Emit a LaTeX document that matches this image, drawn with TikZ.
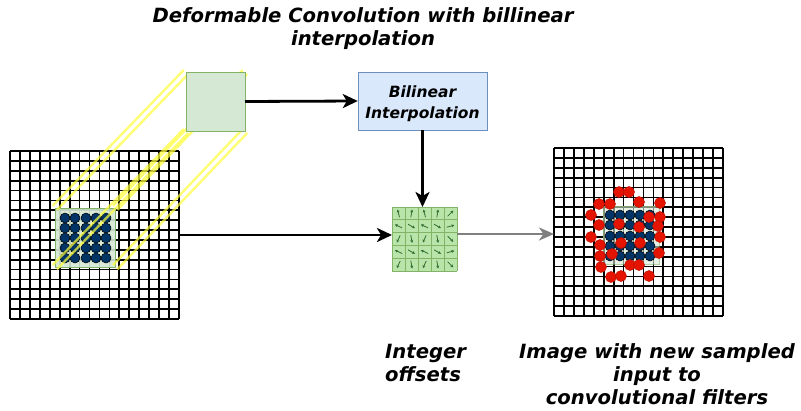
\documentclass[tikz,border=0pt]{standalone}
\usepackage{fontspec}
\setmainfont{DejaVu Sans}
\usetikzlibrary{arrows.meta,calc}
\definecolor{gfill}{RGB}{213,232,212}
\definecolor{gline}{RGB}{130,179,102}
\definecolor{bfill}{RGB}{218,232,252}
\definecolor{bline}{RGB}{108,142,191}
\definecolor{navy}{RGB}{0,51,102}
\definecolor{redd}{RGB}{229,20,0}
\definecolor{offill}{RGB}{185,228,170}
\definecolor{offarrow}{RGB}{50,110,50}
\definecolor{yel}{RGB}{255,255,60}
\definecolor{greyarr}{RGB}{128,128,128}
\begin{document}
\begin{tikzpicture}[x=1pt,y=-1pt,
  gridln/.style={line width=1.8pt,black},
  gridbox/.style={minimum width=169pt,minimum height=168pt,inner sep=0pt,outer sep=0pt},
  bluedot/.style={circle,fill=navy,draw=black,line width=0.5pt,minimum size=10pt,inner sep=0pt},
  reddot/.style={circle,fill=redd,draw=redd!80!black,line width=0.5pt,minimum size=11pt,inner sep=0pt},
  yline/.style={line width=2.4pt,draw=yel,opacity=0.7},
  arr/.style={line width=2.8pt,-{Stealth[length=15pt,width=14pt,inset=4pt]}},
  greyarrow/.style={line width=2.8pt,greyarr,-{Stealth[length=15pt,width=13pt,inset=4.5pt]}},
  offarr/.style={line width=0.8pt,offarrow,-{Stealth[length=3pt,width=3pt]}},
  lbl/.style={font=\fontsize{19.6}{23}\selectfont\bfseries\itshape,align=center,inner sep=0pt},
]
\useasboundingbox (0,0) rectangle (801,410);

% ---------- left grid ----------
\node[gridbox] (leftgrid) at (94.5,235) {};
\foreach \i in {0,...,17} {
  \draw[gridln] ($(leftgrid.north west)+(\i*169/17,0)$) -- ($(leftgrid.south west)+(\i*169/17,0)$);
  \draw[gridln] ($(leftgrid.north west)+(0,\i*168/17)$) -- ($(leftgrid.north east)+(0,\i*168/17)$);
}
\node[draw=gline,fill=gfill,fill opacity=0.9,minimum width=60pt,minimum height=59pt,inner sep=0pt] (smallsq) at (85,237.5) {};
\foreach \x [count=\c] in {65,75,86,96,106}
  \foreach \y [count=\r] in {218,228,238,248,258}
    \node[bluedot] (lb\c\r) at (\x,\y) {};

% big square position (drawn after the yellow links)
\node[minimum size=59pt,inner sep=0pt,outer sep=0pt] (bigsq) at (215.5,101.5) {};
\foreach \a in {north west,south west,south east,north east} {
  \draw[yline] ($(smallsq.\a)!3pt!90:(bigsq.\a)$) -- ($(bigsq.\a)!3pt!-90:(smallsq.\a)$);
  \draw[yline] ($(smallsq.\a)!3pt!-90:(bigsq.\a)$) -- ($(bigsq.\a)!3pt!90:(smallsq.\a)$);
}
\draw[draw=gline,fill=gfill] (bigsq.north west) rectangle (bigsq.south east);

% ---------- bilinear box ----------
\node[draw=bline,fill=bfill,minimum width=129pt,minimum height=58pt,inner sep=0pt] (bil) at (422.5,101) {};
\node[font=\fontsize{15.5}{21}\selectfont\bfseries\itshape,align=center,inner sep=0pt] (biltext) at ($(bil.center)+(0,3)$) {Bilinear\\Interpolation};

% ---------- offsets grid ----------
\node[fill=offill,minimum width=65pt,minimum height=64pt,inner sep=0pt,outer sep=0pt] (offs) at (424.5,239) {};
\foreach \i in {0,...,5} {
  \draw[gline,line width=0.8pt] ($(offs.north west)+(\i*13,0)$) -- ($(offs.south west)+(\i*13,0)$);
  \draw[gline,line width=0.8pt] ($(offs.north west)+(0,\i*12.8)$) -- ($(offs.north east)+(0,\i*12.8)$);
}
\foreach \r/\angs in {0/{105,80,105,80,45},1/{155,-30,155,-30,15},2/{245,-80,245,-80,-45},3/{155,-30,155,-30,15},4/{245,-80,245,-80,-45}} {
  \foreach \a [count=\c from 0] in \angs {
    \coordinate (oc) at ($(offs.north west)+(\c*13+6.5,\r*12.8+6.4)$);
    \draw[offarr] ($(oc)+(\a+180:4pt)$) -- ($(oc)+(\a:4pt)$);
  }
}

% ---------- right grid ----------
\node[gridbox] (rightgrid) at (638.5,232) {};
\foreach \i in {0,...,17} {
  \draw[gridln] ($(rightgrid.north west)+(\i*169/17,0)$) -- ($(rightgrid.south west)+(\i*169/17,0)$);
  \draw[gridln] ($(rightgrid.north west)+(0,\i*168/17)$) -- ($(rightgrid.north east)+(0,\i*168/17)$);
}
\node[draw=gline,fill=gfill,opacity=0.6,minimum width=56pt,minimum height=58pt,inner sep=0pt] (rsq) at (631,235) {};
\foreach \x [count=\c] in {610,620,630,640,650}
  \foreach \y [count=\r] in {215,225,236,246,256}
    \node[bluedot] (rb\c\r) at (\x,\y) {};
\foreach \x/\y [count=\k] in {619/192,629/192,599/204,610/204,639/202,660/203,591/215,649/217,660/217,
    599/225,619/224,639/227,658/226,591/237,660/237,600/245,621/243,640/243,600/256,612/254,659/253,
    601/267,630/265,639/265,611/277,621/276,649/276}
  \node[reddot] (rd\k) at (\x,\y) {};

% ---------- connectors ----------
\draw[arr] (bigsq.east) -- (bil.west);
\draw[arr] (bil.south) -- (bil.south |- offs.north);
\draw[arr] (leftgrid.east) -- (leftgrid.east -| offs.west);
\coordinate (g1) at ($(offs.east)+(0,-5)$);
\draw[greyarrow] (g1) -- (g1 -| rightgrid.west);

% ---------- labels ----------
\node[lbl] (title) at (363,29) {Deformable Convolution with billinear\\interpolation};
\node[lbl,align=left,anchor=west] (intoff) at (385,363) {Integer\\offsets};
\node[lbl] (imgtxt) at (657,374) {Image with new sampled\\input to\\convolutional filters};
\end{tikzpicture}
\end{document}
